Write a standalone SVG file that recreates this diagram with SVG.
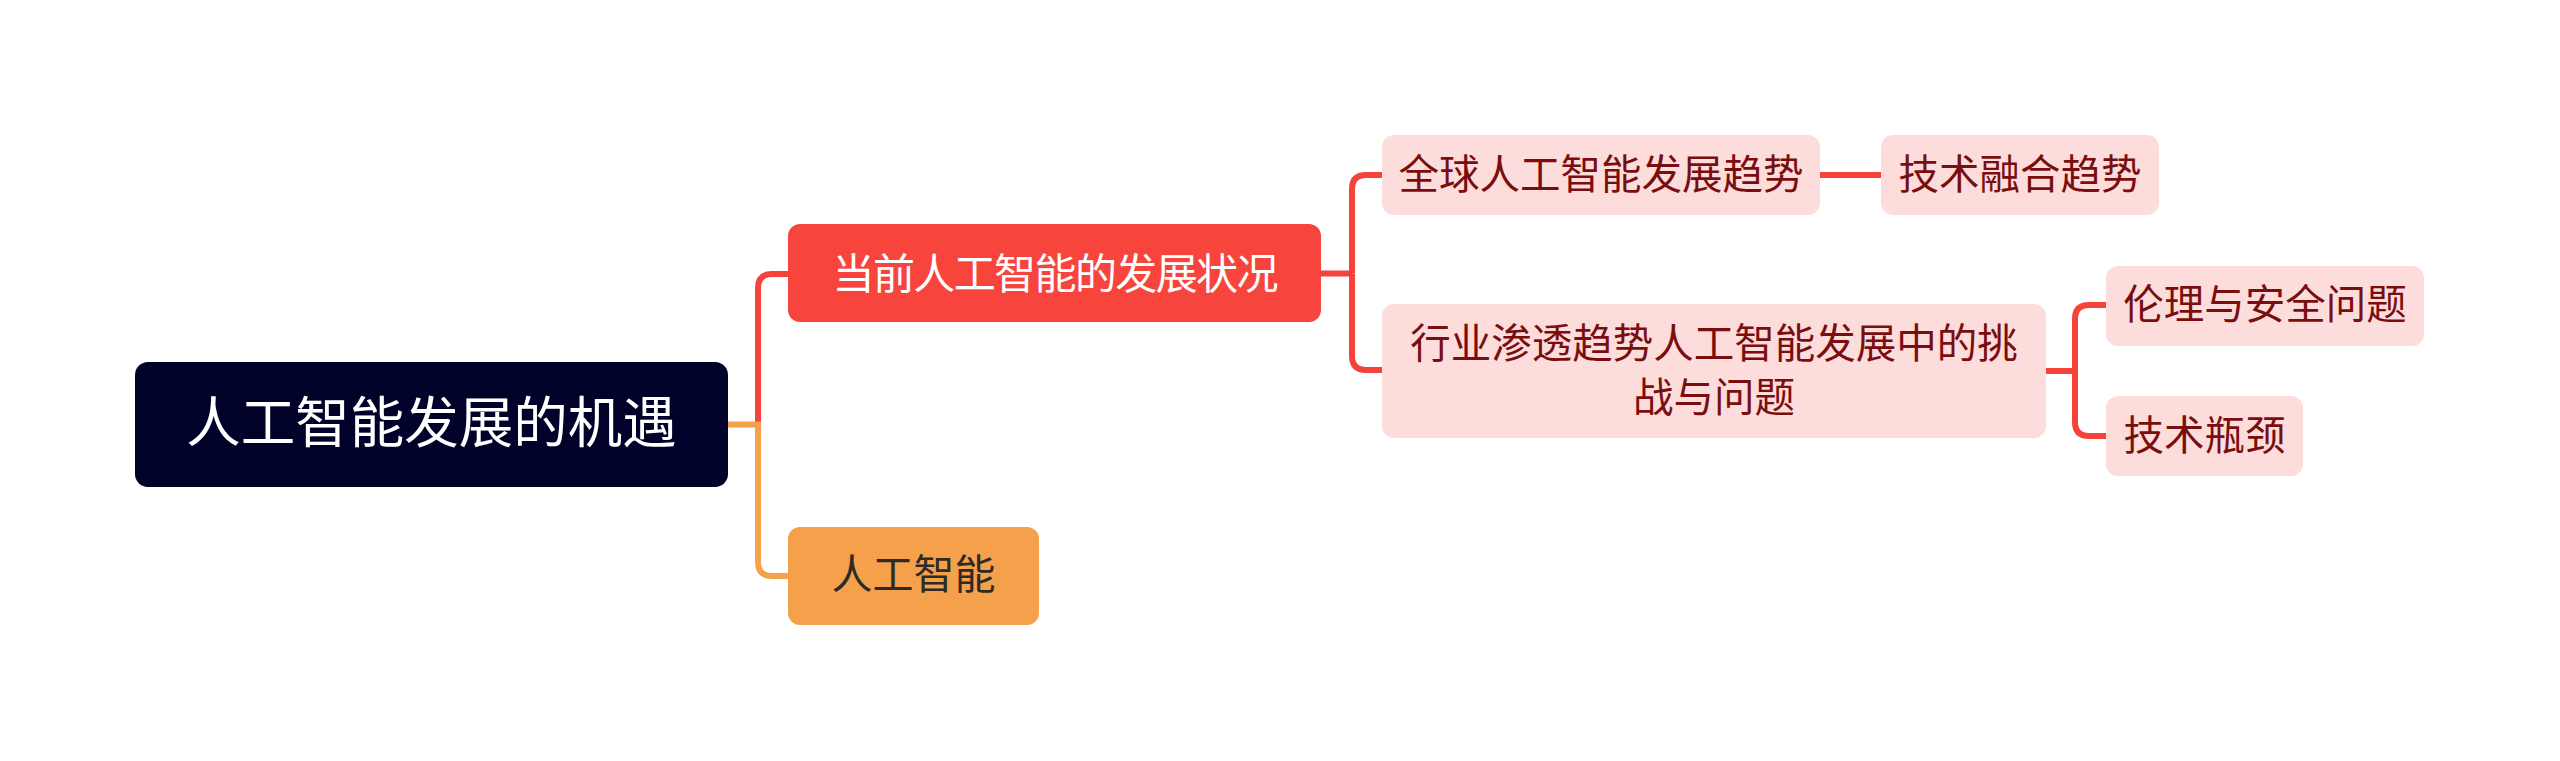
<svg xmlns="http://www.w3.org/2000/svg" width="2560" height="761" viewBox="0 0 2560 761">
<style>
text{font-family:"Liberation Sans","Noto Sans CJK SC",sans-serif;text-anchor:middle;dominant-baseline:central}
.root{fill:#000229}
.l1r{fill:#F7443C}
.l1o{fill:#F5A04B}
.l2{fill:#FDDCDC}
.tw{fill:#FFFFFF}
.td{fill:#2E2A26}
.tr{fill:#7A0E0E}
.cr{fill:none;stroke:#F5433B;stroke-width:6}
.co{fill:none;stroke:#F5A04B;stroke-width:6}
</style>
<rect width="2560" height="761" fill="#FFFFFF"/>
<g id="connectors">
<path class="cr" d="M758 424.5 V288 Q758 274 772 274 H789"/>
<path class="co" d="M727 424.5 H758 V562 Q758 576 772 576 H789"/>
<path class="cr" d="M1320 273.5 H1352"/>
<path class="cr" d="M1352 273.5 V189 Q1352 175 1366 175 H1383"/>
<path class="cr" d="M1352 273.5 V356 Q1352 370 1366 370 H1383"/>
<path class="cr" d="M1819 175 H1882"/>
<path class="cr" d="M2045 371 H2075"/>
<path class="cr" d="M2075 371 V319 Q2075 305 2089 305 H2107"/>
<path class="cr" d="M2075 371 V422 Q2075 436 2089 436 H2107"/>
</g>
<g id="node-root">
<rect class="root" x="135" y="362" width="593" height="125" rx="13"/>
<text class="tw" x="431.5" y="423.5" font-size="54.5">人工智能发展的机遇</text>
</g>
<g id="node-current">
<rect class="l1r" x="788" y="224" width="533" height="98" rx="12"/>
<text class="tw" x="1055.5" y="274" font-size="42" textLength="446" lengthAdjust="spacing">当前人工智能的发展状况</text>
</g>
<g id="node-ai">
<rect class="l1o" x="788" y="527" width="251" height="98" rx="12"/>
<text class="td" x="913.5" y="575" font-size="41">人工智能</text>
</g>
<g id="node-global">
<rect class="l2" x="1382" y="135" width="438" height="80" rx="12"/>
<text class="tr" x="1601" y="175" font-size="40.5">全球人工智能发展趋势</text>
</g>
<g id="node-fusion">
<rect class="l2" x="1881" y="135" width="278" height="80" rx="12"/>
<text class="tr" x="2020" y="175" font-size="40.5">技术融合趋势</text>
</g>
<g id="node-industry">
<rect class="l2" x="1382" y="304" width="664" height="134" rx="12"/>
<text class="tr" x="1714" y="343.5" font-size="40.5">行业渗透趋势人工智能发展中的挑</text>
<text class="tr" x="1714" y="397.5" font-size="40.5">战与问题</text>
</g>
<g id="node-ethics">
<rect class="l2" x="2106" y="266" width="318" height="80" rx="12"/>
<text class="tr" x="2265" y="305" font-size="40.5">伦理与安全问题</text>
</g>
<g id="node-bottleneck">
<rect class="l2" x="2106" y="396" width="197" height="80" rx="12"/>
<text class="tr" x="2204.5" y="436" font-size="40.5">技术瓶颈</text>
</g>
</svg>
